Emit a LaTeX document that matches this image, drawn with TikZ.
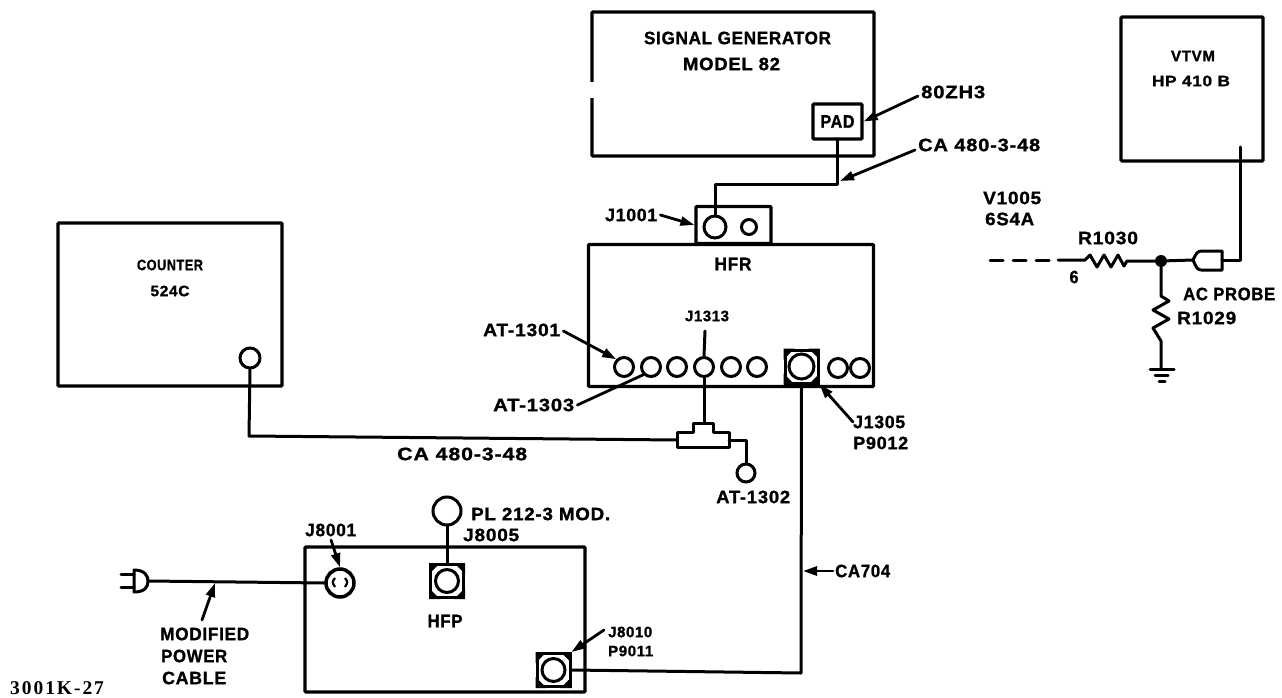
\documentclass[tikz,border=0pt]{standalone}
\usepackage{fontspec}
\setmainfont{Liberation Sans}[LetterSpace=4,BoldFeatures={FakeBold=1.2}]
\newfontfamily\idfont{Liberation Serif}[LetterSpace=10]
\usetikzlibrary{arrows.meta}
\newcommand{\lbl}[2]{\resizebox{#1pt}{12.5pt}{\fontsize{14}{16}\selectfont\bfseries #2}}
\newcommand{\lbs}[2]{\resizebox{#1pt}{10.5pt}{\fontsize{14}{16}\selectfont\bfseries #2}}
\tikzset{
  wire/.style={line width=3pt,line join=round,line cap=round},
  box/.style={draw,line width=3.2pt,inner sep=0pt,rounded corners=1pt},
  jack/.style={circle,draw,fill=white,line width=3pt,inner sep=0pt},
  lab/.style={inner sep=0pt},
  pointer/.style={line width=2.8pt,line cap=round,-{Triangle[length=14pt,width=9pt]}},
}
\newcommand{\sqjack}[4]{% name, x, y, jack diameter
  \node[draw,fill=white,line width=3pt,minimum size=33pt,inner sep=0pt] (#1s) at (#2,#3) {};
  \foreach \a/\dx/\dy in {north west/11/11,north east/-11/11,south west/11/-11,south east/-11/-11}{
    \fill (#1s.\a) -- ++(\dx,0) -- ++(-\dx,\dy) -- cycle;}
  \node[jack,minimum size=#4pt] (#1) at (#2,#3) {};
}
\begin{document}
\begin{tikzpicture}[x=1pt,y=-1pt]
\useasboundingbox (0,0) rectangle (1282,698);
% boxes
\node[box,minimum width=282pt,minimum height=144pt] (siggen) at (733,84) {};
\fill[white] (585,82) rectangle (600,98);
\node[box,minimum width=49pt,minimum height=35pt,fill=white] (pad) at (837.5,121.5) {};
\node[lab] (padl) at (pad) {\lbl{34}{PAD}};
\node[box,minimum width=75pt,minimum height=37pt] (hfrtop) at (733.5,225) {};
\node[box,minimum width=285pt,minimum height=142pt] (hfr) at (731,315.5) {};
\node[box,minimum width=224pt,minimum height=163pt] (counter) at (170,304.5) {};
\node[box,minimum width=142pt,minimum height=144pt] (vtvm) at (1192,89) {};
\node[box,minimum width=280pt,minimum height=145pt] (hfp) at (445,619.5) {};
% jacks
\node[jack,minimum size=22pt] (j1001) at (715,227) {};
\node[jack,minimum size=15pt] (j1001b) at (749,227) {};
\node[jack,minimum size=19pt] (at1301) at (624,367) {};
\node[jack,minimum size=19pt] (at1303) at (651,367) {};
\node[jack,minimum size=19pt] (c3) at (677,367) {};
\node[jack,minimum size=19pt] (j1313) at (704,367) {};
\node[jack,minimum size=19pt] (c5) at (731,367) {};
\node[jack,minimum size=19pt] (c6) at (757,367) {};
\node[jack,minimum size=19pt] (c7) at (838,368) {};
\node[jack,minimum size=19pt] (c8) at (860,368) {};
\sqjack{j1305}{801.5}{366.5}{25}
\sqjack{j8005}{447}{581}{23}
\sqjack{j8010}{553.5}{670}{23}
\node[jack,minimum size=20pt] (cj) at (250,358) {};
\node[jack,minimum size=18pt] (at1302) at (746,473) {};
\node[jack,minimum size=28pt] (pl212) at (447,511) {};
\node[jack,minimum size=28pt,line width=3.5pt] (j8001) at (340,583) {};
\draw[line width=2.2pt] (335,578) .. controls (332,582) .. (335,587);
\draw[line width=2.2pt] (345,578) .. controls (348,582) .. (345,587);
% tee
\coordinate (teeL) at (677,440);
\coordinate (teeR) at (729,440);
\coordinate (teeT) at (704,423);
\draw[wire] (677,432) -- (693,432) -- (693,423) -- (713,423) -- (713,432) -- (729,432) -- (729,447) -- (677,447) -- cycle;
% wires
\draw[wire] (pad.south) -- ++(0,44) -| (j1001.north);
\draw[wire] (cj.south) -- (249,436) -- (teeL);
\draw[wire] (j1313.south) -- (teeT);
\coordinate (j1313top) at (705,331);
\draw[wire] (j1313top) -- (j1313.north);
\draw[wire] (teeR) -- (746,440) -- (at1302.north);
\draw[wire] (j1305s.south) -- (801,673) -- (j8010s.east);
\draw[wire] (pl212.south) -- (j8005s.north);
% plug
\coordinate (plug) at (148,581);
\draw[wire] (plug) -- (j8001.west);
\draw[wire] (134,570) .. controls (145,570) and (148,576) .. (148,581) .. controls (148,587) and (145,592) .. (134,592) -- cycle;
\draw[wire] (121,574) -- (134,574);
\draw[wire] (121,587) -- (134,587);
% right circuit
\coordinate (dash0) at (990,260);
\coordinate (r30a) at (1085,260);
\coordinate (r30b) at (1127,261);
\node[circle,fill,minimum size=12pt,inner sep=0pt] (junc) at (1161,261) {};
\draw[wire,dash pattern=on 13pt off 10pt] (dash0) -- (1058,260);
\draw[wire] (1058,260) -- (r30a) -- (1090,255) -- (1097,267) -- (1104,255) -- (1111,267) -- (1118,255) -- (1124,266) -- (r30b) -- (junc);
\coordinate (probe) at (1193,260);
\draw[wire] (junc) -- (probe);
\draw[wire] (1193,260) .. controls (1197,252) .. (1201,251) -- (1222,251) -- (1222,270) -- (1201,270) .. controls (1197,269) .. (1193,260);
\coordinate (vt) at (1240,147);
\draw[wire] (vt) -- (1240,260) -- (1222,260);
\coordinate (gnd) at (1161,368);
\draw[wire] (junc) -- (1161,296) -- (1169,301) -- (1153,310) -- (1169,319) -- (1153,328) -- (1161,341) -- (gnd);
\draw[wire] (1150,369) -- (1174,369);
\draw[wire] (1155,375) -- (1168,375);
\draw[wire] (1159,381) -- (1165,381);
% labels
\node[lab] at (737.5,38) {\lbl{187}{SIGNAL GENERATOR}};
\node[lab] at (731.5,64) {\lbl{97}{MODEL 82}};
\node[lab,anchor=west] (l80) at (921,92) {\lbl{64}{80ZH3}};
\node[lab,anchor=west] (lca1) at (918,145) {\lbl{122}{CA 480-3-48}};
\node[lab,anchor=west] (lj1001) at (605,215) {\lbl{52}{J1001}};
\node[lab] at (733,264) {\lbl{37}{HFR}};
\node[lab] at (170,265) {\lbs{66}{COUNTER}};
\node[lab] at (170,291) {\lbs{39}{524C}};
\node[lab] at (1193,56) {\lbs{44}{VTVM}};
\node[lab] at (1191,81) {\lbs{78}{HP 410 B}};
\node[lab,anchor=west] at (983,198) {\lbl{58}{V1005}};
\node[lab,anchor=west] at (985,219) {\lbl{49}{6S4A}};
\node[lab] at (1108,238) {\lbl{60}{R1030}};
\node[lab] at (1074,277) {\lbl{9}{6}};
\node[lab,anchor=west] at (1183,294) {\lbl{92}{AC PROBE}};
\node[lab,anchor=west] at (1177,318) {\lbl{59}{R1029}};
\node[lab,anchor=west] (lat1301) at (483,330) {\lbl{77}{AT-1301}};
\node[lab,anchor=west] (lat1303) at (493,405) {\lbl{81}{AT-1303}};
\node[lab] at (707,316) {\lbs{44}{J1313}};
\node[lab,anchor=west] (lj1305) at (853,422) {\lbl{52}{J1305}};
\node[lab,anchor=west] at (853,443) {\lbl{55}{P9012}};
\node[lab,anchor=west] at (397,454) {\lbl{130}{CA 480-3-48}};
\node[lab,anchor=west] at (716,497) {\lbl{74}{AT-1302}};
\node[lab,anchor=west] at (471,514) {\lbl{139}{PL 212-3 MOD.}};
\node[lab,anchor=west] at (463,535) {\lbl{56}{J8005}};
\node[lab,anchor=west] (lj8001) at (305,530) {\lbl{51}{J8001}};
\node[lab] at (445,621) {\lbl{35}{HFP}};
\node[lab,anchor=west] (lj8010) at (608,632) {\lbs{44}{J8010}};
\node[lab,anchor=west] at (608,651) {\lbs{45}{P9011}};
\node[lab,anchor=west] (lca704) at (835,571) {\lbl{55}{CA704}};
\node[lab,anchor=west] (lmod) at (160,634) {\lbl{89}{MODIFIED}};
\node[lab,anchor=west] at (161,656) {\lbl{66}{POWER}};
\node[lab,anchor=west] at (162,678) {\lbl{64}{CABLE}};
\node[anchor=west,inner sep=0pt,font=\idfont\fontsize{19.5}{20}\selectfont\bfseries] at (10,688) {3001K-27};
% pointers
\draw[pointer] (l80.west) ++(-3,4) -- (pad.east);
\draw[pointer] (lca1.west) ++(-3,5) -- (840,181);
\draw[pointer] (lj1001.east) ++(3,0) -- (hfrtop.west);
\draw[pointer] (lat1301.east) ++(3,1) -- (at1301.north west);
\draw[pointer,-] (lat1303.east) ++(3,0) -- (at1303.south west);
\draw[pointer] (lj1305.west) -- (j1305s.south east);
\draw[pointer] (lca704.west) ++(-2,0) -- (803,571);
\draw[pointer] (202,620) -- (215,583);
\draw[pointer] (331,540) -- (j8001.north);
\draw[pointer] (604,630) -- (j8010s.north east);
\end{tikzpicture}
\end{document}
